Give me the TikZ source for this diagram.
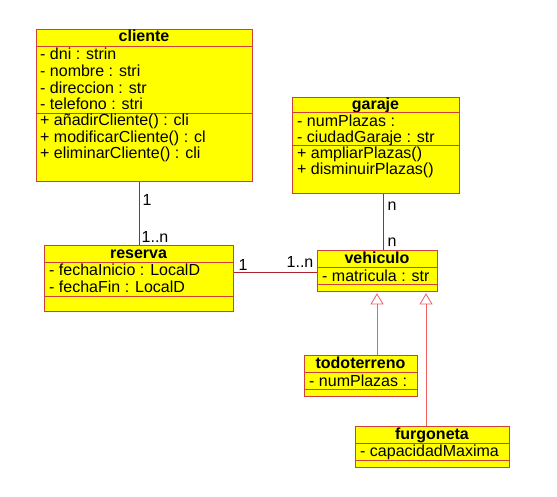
\documentclass[tikz,border=0pt]{standalone}
\usepackage{fontspec}
\setmainfont{Liberation Sans}
\usetikzlibrary{arrows.meta}
\definecolor{umly}{RGB}{255,255,0}
\definecolor{bordc}{RGB}{208,64,64}
\definecolor{assoc}{RGB}{176,32,48}
\definecolor{inhc}{RGB}{240,96,96}
\tikzset{
  box/.style={draw=bordc, fill=umly, line width=0.8pt, inner sep=0pt, anchor=north west},
  sep/.style={draw=bordc, line width=0.8pt},
  ttl/.style={font=\bfseries\fontsize{16}{17}\selectfont, anchor=base, inner sep=0pt},
  att/.style={font=\fontsize{16}{17}\selectfont, anchor=base west, inner sep=0pt},
  lbl/.style={font=\fontsize{16}{17}\selectfont, inner sep=0pt},
  asc/.style={draw=assoc, line width=0.8pt},
  inh/.style={draw=inhc, line width=0.8pt, -{Triangle[open, length=11pt, width=13pt, fill=white]}}
}
\begin{document}
\begin{tikzpicture}[x=1pt,y=-1pt]
\useasboundingbox (0,0) rectangle (557,497);
% labels
\node[lbl] (l1) at (147,200) {1};
\node[lbl] (l2) at (155,236.5) {1..n};
\node[lbl] (l3) at (243,265) {1};
\node[lbl] (l4) at (300,262) {1..n};
\node[lbl] (l5) at (392,206) {n};
\node[lbl] (l6) at (392,242) {n};

% cliente
\node[box, minimum width=216pt, minimum height=152pt] (cliente) at (36,29) {};
\begin{scope}
\clip (36,29) rectangle (252,181);
\node[ttl] (cT) at (144,42) {cliente};
\draw[sep] (36,46) -- (252,46);
\node[att] (c1) at (40,60) {- dni : strin};
\node[att] (c2) at (40,77) {- nombre : stri};
\node[att] (c3) at (40,94) {- direccion : str};
\node[att] (c4) at (40,110) {- telefono : stri};
\draw[sep] (36,113) -- (252,113);
\node[att] (c5) at (40,126) {+ añadirCliente() : cli};
\node[att] (c6) at (40,143) {+ modificarCliente() : cl};
\node[att] (c7) at (40,159) {+ eliminarCliente() : cli};
\end{scope}

% garaje
\node[box, minimum width=167pt, minimum height=96pt] (garaje) at (292,97) {};
\begin{scope}
\clip (292,97) rectangle (459,193);
\node[ttl] (gT) at (375.5,110) {garaje};
\draw[sep] (292,112.7) -- (459,112.7);
\node[att] (g1) at (297,127) {- numPlazas :};
\node[att] (g2) at (297,143) {- ciudadGaraje : str};
\draw[sep] (292,145.5) -- (459,145.5);
\node[att] (g3) at (297,159) {+ ampliarPlazas()};
\node[att] (g4) at (297,175) {+ disminuirPlazas()};
\end{scope}

% reserva
\node[box, minimum width=189pt, minimum height=66pt] (reserva) at (44,245) {};
\begin{scope}
\clip (44,245) rectangle (233,311);
\node[ttl] (rT) at (138.5,258.5) {reserva};
\draw[sep] (44,262) -- (233,262);
\node[att] (r1) at (49,276) {- fechaInicio : LocalD};
\node[att] (r2) at (49,292) {- fechaFin : LocalD};
\draw[sep] (44,296) -- (233,296);
\end{scope}

% vehiculo
\node[box, minimum width=120pt, minimum height=41pt] (vehiculo) at (317,250) {};
\begin{scope}
\clip (317,250) rectangle (437,291);
\node[ttl] (vT) at (377,263) {vehiculo};
\draw[sep] (317,267) -- (437,267);
\node[att] (v1) at (322,281.5) {- matricula : str};
\draw[sep] (317,284.5) -- (437,284.5);
\end{scope}

% todoterreno
\node[box, minimum width=113pt, minimum height=41pt] (todoterreno) at (304,355) {};
\begin{scope}
\clip (304,355) rectangle (417,396);
\node[ttl] (tT) at (360.5,368) {todoterreno};
\draw[sep] (304,372) -- (417,372);
\node[att] (t1) at (309,386.5) {- numPlazas :};
\draw[sep] (304,389.5) -- (417,389.5);
\end{scope}

% furgoneta
\node[box, minimum width=154pt, minimum height=41pt] (furgoneta) at (355,426) {};
\begin{scope}
\clip (355,426) rectangle (509,467);
\node[ttl] (fT) at (432,439) {furgoneta};
\draw[sep] (355,443) -- (509,443);
\node[att] (f1) at (360,456.5) {- capacidadMaxima};
\draw[sep] (355,460.5) -- (509,460.5);
\end{scope}

% associations
\draw[asc] (reserva.north) -- (reserva.north |- cliente.south);
\draw[asc] ([yshift=-1.5pt]vehiculo.west) -- ([yshift=-1.5pt]vehiculo.west -| reserva.east);
\draw[asc] ([xshift=6pt]vehiculo.north) -- ([xshift=6pt]vehiculo.north |- garaje.south);

% inheritance
\coordinate (x1) at (377,0);
\coordinate (x2) at (426,0);
\draw[inh] (todoterreno.north -| x1) -- ([yshift=-1.5pt]vehiculo.south -| x1);
\draw[inh] (furgoneta.north -| x2) -- ([yshift=-1.5pt]vehiculo.south -| x2);
\end{tikzpicture}
\end{document}
